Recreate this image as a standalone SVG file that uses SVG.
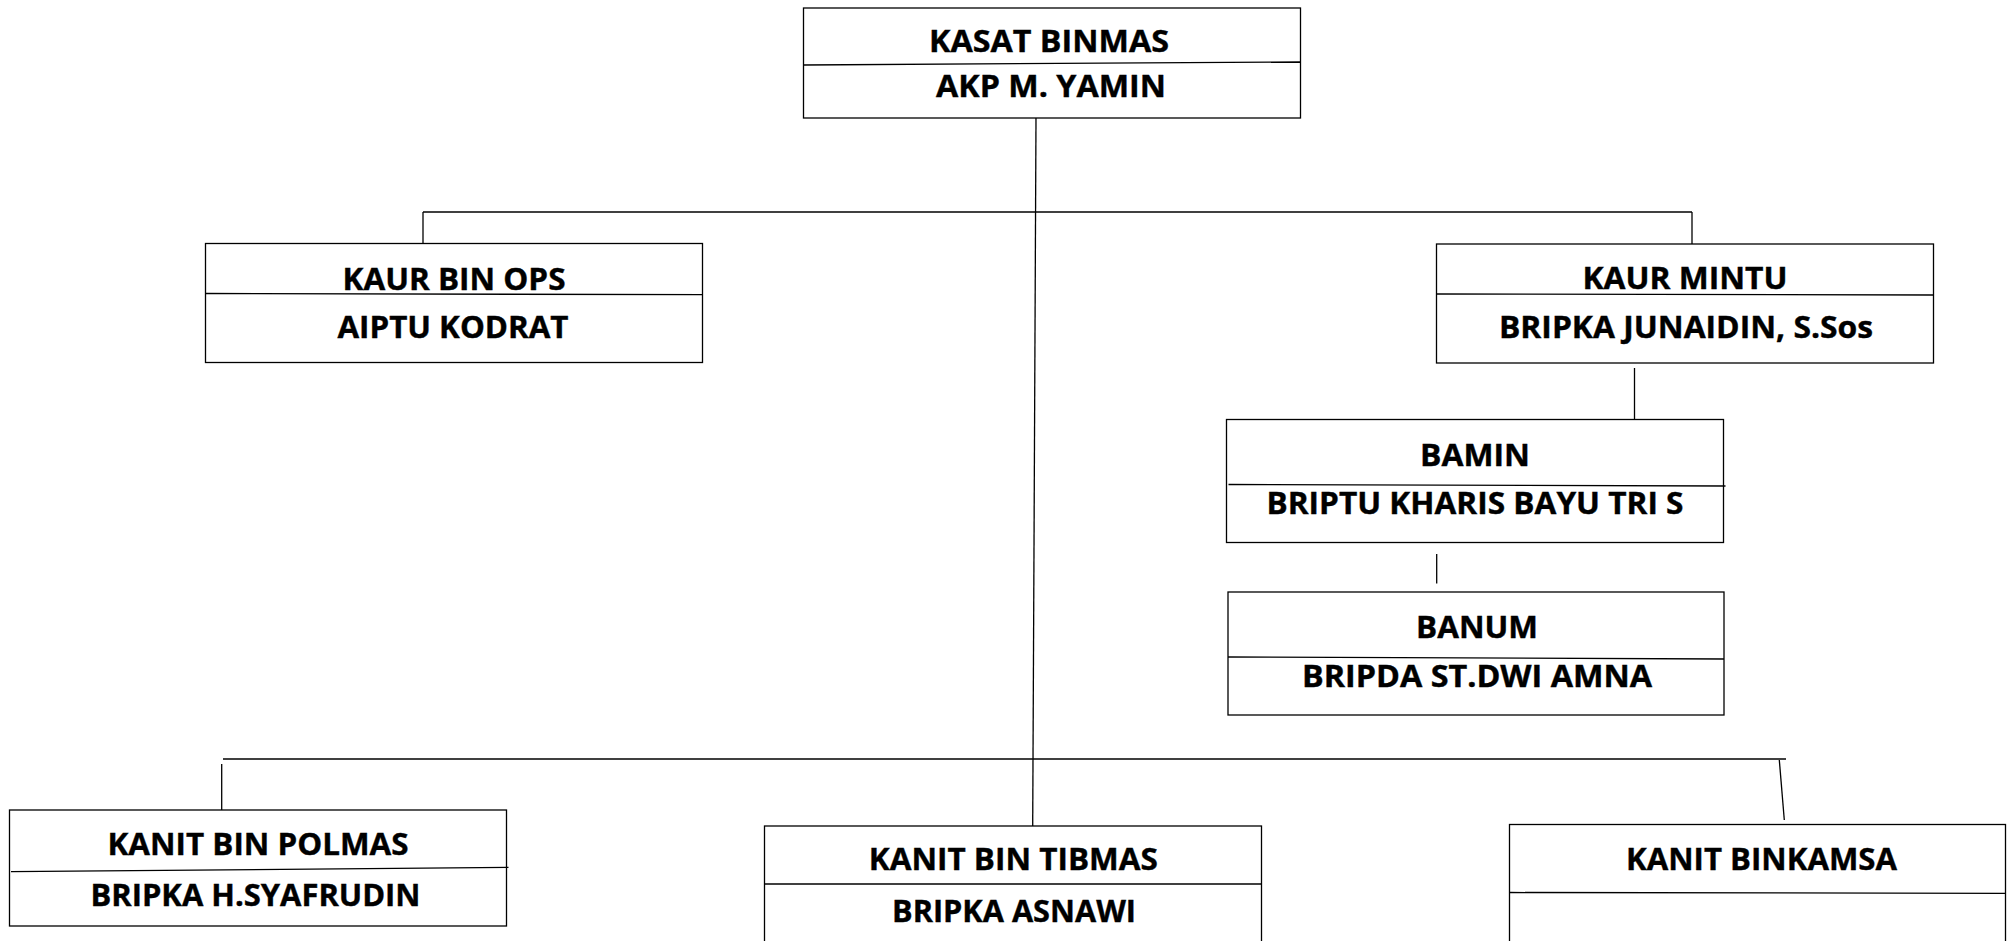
<svg xmlns="http://www.w3.org/2000/svg" width="2016" height="941" viewBox="0 0 2016 941">
<style>
.box{fill:#fff;stroke:#000;stroke-width:1.3}
.ln{fill:none;stroke:#000;stroke-width:1.3}
.t{font-family:"Open Sans","Liberation Sans",sans-serif;font-weight:700;font-size:31px;fill:#000;stroke:#000;stroke-width:0.4;text-anchor:middle}
</style>
<rect width="2016" height="941" fill="#fff"/>
<g id="connectors">
<path class="ln" d="M1036,118 L1032.7,826"/>
<path class="ln" d="M423,212 H1692"/>
<path class="ln" d="M423,212 V243.5"/>
<path class="ln" d="M1692,212 V244"/>
<path class="ln" d="M1634.5,368 V425"/>
<path class="ln" d="M1436.7,554 V583.5"/>
<path class="ln" d="M223,759 H1786"/>
<path class="ln" d="M221.7,764 V810"/>
<path class="ln" d="M1779.3,760 L1784.3,820"/>
</g>
<g id="kasat-binmas">
<rect class="box" x="803.5" y="8" width="497" height="110"/>
<path class="ln" d="M803.5,65 L1300.5,62"/>
<text class="t" x="1049" y="52" textLength="240" lengthAdjust="spacingAndGlyphs">KASAT BINMAS</text>
<text class="t" x="1051" y="97" textLength="230" lengthAdjust="spacingAndGlyphs">AKP M. YAMIN</text>
</g>
<g id="kaur-bin-ops">
<rect class="box" x="205.5" y="243.5" width="497" height="119"/>
<path class="ln" d="M205.5,293.5 L702.5,294.7"/>
<text class="t" x="454" y="290" textLength="223" lengthAdjust="spacingAndGlyphs">KAUR BIN OPS</text>
<text class="t" x="453" y="338" textLength="231" lengthAdjust="spacingAndGlyphs">AIPTU KODRAT</text>
</g>
<g id="kaur-mintu">
<rect class="box" x="1436.5" y="244" width="497" height="119"/>
<path class="ln" d="M1436.5,294 L1933.5,295"/>
<text class="t" x="1685" y="289" textLength="205" lengthAdjust="spacingAndGlyphs">KAUR MINTU</text>
<text class="t" x="1686" y="338" textLength="374" lengthAdjust="spacingAndGlyphs">BRIPKA JUNAIDIN, S.Sos</text>
</g>
<g id="bamin">
<rect class="box" x="1226.5" y="419.5" width="497" height="123"/>
<path class="ln" d="M1228.5,484.5 L1725.5,486"/>
<text class="t" x="1475" y="466" textLength="110" lengthAdjust="spacingAndGlyphs">BAMIN</text>
<text class="t" x="1475" y="514" textLength="417" lengthAdjust="spacingAndGlyphs">BRIPTU KHARIS BAYU TRI S</text>
</g>
<g id="banum">
<rect class="box" x="1228" y="592" width="496" height="123"/>
<path class="ln" d="M1228,657 L1724,659"/>
<text class="t" x="1477" y="638" textLength="122" lengthAdjust="spacingAndGlyphs">BANUM</text>
<text class="t" x="1477" y="687" textLength="350" lengthAdjust="spacingAndGlyphs">BRIPDA ST.DWI AMNA</text>
</g>
<g id="kanit-bin-polmas">
<rect class="box" x="9.5" y="810" width="497" height="116"/>
<path class="ln" d="M11,871.7 L508.5,867.3"/>
<text class="t" x="258" y="855" textLength="301" lengthAdjust="spacingAndGlyphs">KANIT BIN POLMAS</text>
<text class="t" x="255.5" y="905.7" textLength="330" lengthAdjust="spacingAndGlyphs">BRIPKA H.SYAFRUDIN</text>
</g>
<g id="kanit-bin-tibmas">
<rect class="box" x="764.5" y="826" width="497" height="130"/>
<path class="ln" d="M764.5,884 L1261.5,884"/>
<text class="t" x="1013.3" y="870" textLength="289" lengthAdjust="spacingAndGlyphs">KANIT BIN TIBMAS</text>
<text class="t" x="1014" y="921.7" textLength="244" lengthAdjust="spacingAndGlyphs">BRIPKA ASNAWI</text>
</g>
<g id="kanit-binkamsa">
<rect class="box" x="1509.5" y="824.5" width="496" height="130"/>
<path class="ln" d="M1509.5,892.5 L2005.5,893.3"/>
<text class="t" x="1761.5" y="870" textLength="271" lengthAdjust="spacingAndGlyphs">KANIT BINKAMSA</text>
</g>
</svg>
